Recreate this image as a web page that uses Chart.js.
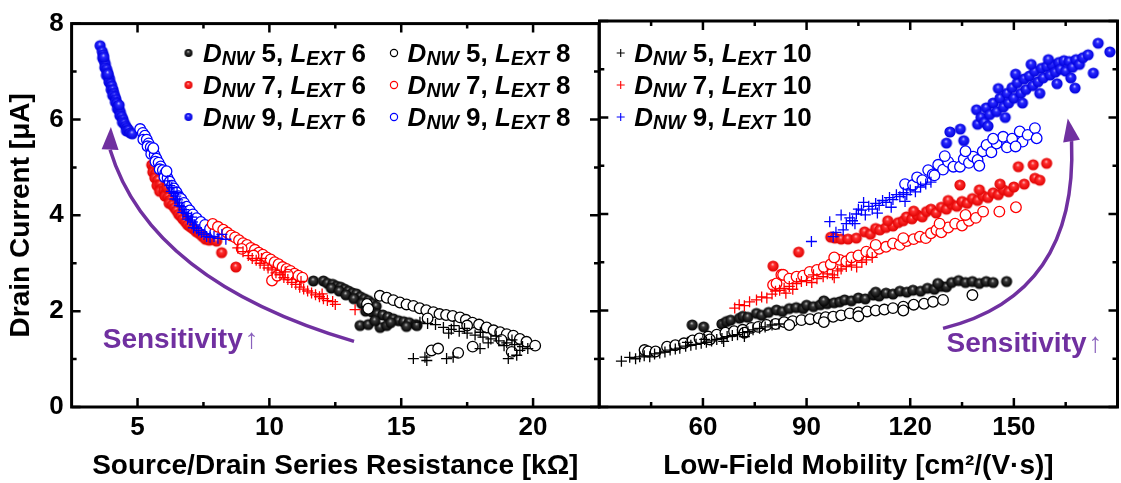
<!DOCTYPE html>
<html>
<head>
<meta charset="utf-8">
<script src="https://cdn.jsdelivr.net/npm/chart.js@4.4.1/dist/chart.umd.min.js"></script>
<style>
  html, body { margin: 0; padding: 0; background: #fff; }
  #wrap { position: relative; width: 1121px; height: 483px; overflow: hidden; }
  #left { position: absolute; left: 0; top: 0; }
  #right { position: absolute; left: 598px; top: 0; }
</style>
</head>
<body>
<div id="wrap">
  <canvas id="left" width="601" height="483"></canvas>
  <canvas id="right" width="523" height="483"></canvas>
</div>
<script>
// ---- data: [x, y] pairs ----
// left panel: source/drain series resistance [kOhm] vs drain current [uA]
const rsD5L6 = [[11.67,2.63],[12.05,2.63],[12.2,2.58],[12.4,2.56],[12.55,2.52],[12.35,2.48],[12.7,2.5],[12.85,2.46],[12.65,2.42],[13.0,2.42],[13.15,2.38],[12.9,2.34],[13.3,2.36],[13.45,2.3],[13.2,2.26],[13.6,2.26],[13.75,2.22],[13.5,2.16],[13.9,2.16],[14.05,2.1],[13.7,2.08],[13.65,2.0],[13.9,1.98],[14.1,1.94],[14.3,1.92],[14.5,1.88],[14.7,1.84],[14.9,1.8],[15.1,1.78],[15.3,1.76],[15.55,1.72],[13.44,1.7],[13.75,1.72],[14.2,1.66],[14.45,1.7],[15.2,1.68],[15.6,1.7],[14.0,1.8],[14.6,1.76]];
const rsD7L6 = [[5.54,5.05],[5.62,4.98],[5.58,4.9],[5.7,4.88],[5.66,4.78],[5.78,4.74],[5.74,4.62],[5.86,4.64],[5.92,4.56],[5.84,4.5],[6.0,4.52],[6.08,4.46],[6.04,4.4],[6.16,4.38],[6.24,4.32],[6.2,4.25],[6.32,4.22],[6.4,4.16],[6.48,4.1],[6.56,4.02],[6.64,3.98],[6.72,3.92],[6.82,3.86],[6.9,3.8],[7.0,3.76],[7.1,3.72],[7.22,3.66],[7.34,3.62],[7.46,3.56],[7.58,3.5],[7.72,3.48],[7.86,3.5],[8.0,3.46],[8.19,3.22],[8.73,2.92],[7.4,3.7],[6.12,4.58]];
const rsD9L6 = [[3.58,7.54],[3.66,7.42],[3.7,7.35],[3.68,7.28],[3.74,7.22],[3.78,7.15],[3.76,7.08],[3.83,7.05],[3.86,6.98],[3.82,6.92],[3.9,6.9],[3.94,6.84],[3.92,6.78],[3.98,6.75],[4.02,6.7],[4.0,6.62],[4.07,6.62],[4.1,6.55],[4.06,6.5],[4.14,6.48],[4.18,6.42],[4.16,6.36],[4.22,6.34],[4.26,6.28],[4.24,6.22],[4.31,6.2],[4.35,6.14],[4.33,6.08],[4.4,6.06],[4.45,6.0],[4.43,5.94],[4.5,5.92],[4.55,5.86],[4.6,5.82],[4.58,5.76],[4.66,5.78],[4.72,5.72],[4.8,5.7],[4.3,6.3],[3.72,7.3],[3.88,6.95]];
const rsD5L8 = [[13.7,2.15],[13.75,2.05],[14.19,2.32],[14.45,2.28],[14.7,2.23],[14.95,2.18],[15.2,2.14],[15.46,2.11],[15.7,2.06],[15.95,2.02],[16.22,1.98],[16.45,1.94],[16.7,1.92],[16.95,1.9],[17.23,1.87],[17.45,1.82],[17.7,1.76],[17.95,1.72],[18.24,1.66],[18.5,1.6],[18.75,1.56],[19.0,1.52],[19.25,1.49],[19.5,1.42],[19.75,1.36],[20.08,1.28],[16.15,1.18],[16.4,1.22],[17.16,1.13],[17.71,1.26],[19.19,1.15],[18.8,1.4],[17.5,1.7],[16.0,1.85]];
const rsD7L8 = [[7.85,3.82],[8.05,3.76],[8.25,3.7],[8.4,3.64],[8.55,3.58],[8.7,3.54],[8.85,3.48],[9.0,3.42],[9.15,3.38],[9.3,3.32],[9.45,3.28],[9.6,3.22],[9.75,3.18],[9.9,3.12],[10.05,3.08],[10.2,3.02],[10.35,2.98],[10.5,2.92],[10.65,2.88],[10.8,2.84],[10.95,2.78],[11.1,2.74],[11.25,2.7],[10.1,2.64],[10.3,2.74],[9.4,3.16],[8.95,3.3],[10.7,2.76]];
const rsD9L8 = [[5.1,5.8],[5.2,5.72],[5.28,5.66],[5.22,5.58],[5.35,5.58],[5.42,5.5],[5.38,5.44],[5.5,5.42],[5.56,5.34],[5.52,5.28],[5.65,5.26],[5.72,5.18],[5.68,5.12],[5.8,5.1],[5.88,5.02],[5.84,4.96],[5.96,4.94],[6.05,4.88],[6.02,4.8],[6.14,4.78],[6.22,4.7],[6.3,4.62],[6.38,4.56],[6.48,4.48],[6.56,4.4],[6.66,4.34],[6.76,4.26],[6.86,4.18],[6.98,4.1],[7.1,4.02],[7.24,3.94],[7.4,3.86],[7.56,3.8],[7.75,3.72],[7.95,3.66],[6.1,4.92],[5.6,5.4]];
const rsD5L10 = [[15.71,1.77],[16.0,1.74],[16.3,1.72],[16.6,1.66],[16.9,1.62],[17.2,1.58],[17.5,1.54],[17.8,1.5],[18.1,1.46],[18.4,1.42],[18.7,1.38],[19.0,1.34],[19.3,1.3],[19.6,1.26],[19.8,1.22],[17.0,1.7],[18.0,1.56],[18.6,1.48],[19.2,1.4],[17.4,1.64],[16.8,1.54],[18.3,1.34],[15.46,1.01],[15.9,1.04],[15.97,0.97],[16.72,1.01],[16.97,1.04],[19.06,1.01],[19.38,1.08],[17.99,1.22],[19.5,1.18],[18.9,1.28]];
const rsD7L10 = [[8.8,3.32],[9.0,3.24],[9.2,3.16],[9.35,3.1],[9.5,3.06],[9.65,3.0],[9.8,2.96],[9.95,2.9],[10.1,2.86],[10.25,2.8],[10.4,2.76],[10.55,2.7],[10.7,2.66],[10.85,2.6],[11.0,2.56],[11.15,2.5],[11.3,2.46],[11.45,2.42],[11.6,2.38],[11.75,2.34],[11.9,2.3],[12.05,2.26],[12.2,2.22],[12.4,2.2],[11.2,2.62],[10.6,2.82],[12.5,2.14],[12.0,2.36],[13.25,2.03],[9.7,3.1]];
const rsD9L10 = [[6.15,4.72],[6.22,4.62],[6.3,4.58],[6.28,4.5],[6.38,4.46],[6.45,4.4],[6.42,4.34],[6.52,4.32],[6.6,4.26],[6.58,4.2],[6.68,4.18],[6.76,4.12],[6.72,4.06],[6.84,4.04],[6.92,3.98],[6.9,3.92],[7.0,3.9],[7.08,3.86],[7.16,3.8],[7.12,3.74],[7.24,3.72],[7.32,3.68],[7.42,3.64],[7.52,3.6],[7.62,3.56],[7.75,3.54],[7.9,3.56],[8.05,3.52],[8.2,3.6],[8.35,3.5],[6.5,4.48],[7.05,3.96]];

// right panel: low-field mobility [cm2/(V s)] vs drain current [uA]
const muD5L6 = [[56.9,1.7],[60.2,1.66],[65.5,1.72],[66.8,1.77],[68.0,1.8],[70.6,1.84],[71.6,1.88],[73.0,1.86],[75.5,1.94],[77.0,1.9],[79.0,1.96],[81.3,2.01],[83.0,1.98],[85.0,2.04],[87.0,2.06],[89.0,2.04],[90.0,2.11],[92.0,2.08],[94.0,2.12],[96.0,2.14],[98.0,2.16],[99.6,2.18],[101.0,2.22],[103.0,2.2],[105.0,2.26],[107.0,2.24],[109.3,2.32],[111.0,2.3],[113.0,2.36],[115.0,2.34],[117.0,2.4],[119.0,2.38],[120.8,2.42],[123.0,2.4],[125.0,2.46],[127.0,2.44],[129.0,2.5],[130.5,2.49],[132.0,2.58],[134.0,2.62],[136.0,2.58],[138.0,2.6],[140.0,2.56],[142.0,2.6],[144.0,2.58],[147.9,2.6],[128.0,2.56],[95.0,2.2],[110.0,2.38]];
const muD7L6 = [[80.3,2.92],[87.7,3.21],[97.0,3.52],[98.2,3.5],[100.0,3.48],[102.0,3.48],[104.4,3.5],[106.8,3.63],[108.5,3.58],[110.0,3.7],[111.2,3.67],[113.0,3.72],[115.0,3.75],[116.5,3.82],[118.0,3.86],[118.9,3.94],[120.5,3.9],[122.0,3.98],[123.5,3.94],[124.7,4.05],[126.0,4.1],[127.5,4.02],[129.0,4.14],[130.5,4.1],[132.0,4.2],[133.5,4.16],[134.4,4.6],[135.0,4.26],[136.5,4.22],[138.0,4.32],[139.5,4.28],[141.0,4.38],[142.5,4.34],[144.0,4.44],[145.5,4.4],[147.0,4.5],[148.5,4.46],[150.0,4.56],[151.3,4.98],[153.0,4.62],[155.6,5.02],[156.1,4.74],[159.5,5.05],[157.5,4.7],[146.0,4.62],[140.0,4.5],[131.0,4.28],[121.0,4.06],[113.5,3.86]];
const muD9L6 = [[130.5,5.47],[131.5,5.7],[134.5,5.76],[135.5,5.52],[139.2,6.16],[139.5,5.86],[140.5,6.0],[141.5,5.9],[142.0,6.2],[143.0,6.06],[144.0,6.3],[145.0,6.12],[146.0,6.4],[147.0,6.22],[148.0,6.5],[148.5,6.3],[149.5,6.62],[150.0,6.4],[151.0,6.72],[152.0,6.5],[153.0,6.8],[153.5,6.58],[154.5,6.86],[155.5,6.66],[156.0,6.96],[157.0,6.74],[158.0,7.02],[158.5,6.82],[159.5,7.06],[160.5,6.88],[161.0,7.1],[162.0,6.94],[163.0,7.14],[163.5,7.0],[164.5,7.18],[165.0,6.96],[166.0,7.16],[167.0,7.04],[167.7,6.61],[168.0,7.2],[169.0,7.1],[170.0,7.24],[171.5,7.3],[173.0,6.92],[174.4,7.54],[177.8,7.36],[145.5,6.6],[150.5,6.9],[155.0,7.1],[160.0,7.2],[142.5,5.82],[147.5,6.0],[152.5,6.3],[157.5,6.5],[162.5,6.7],[166.5,6.82]];
const muD5L8 = [[43.1,1.18],[44.1,1.15],[46.3,1.15],[49.6,1.25],[52.0,1.28],[54.5,1.32],[57.0,1.38],[59.0,1.42],[61.5,1.46],[64.0,1.5],[66.5,1.54],[69.0,1.57],[71.5,1.6],[74.0,1.64],[76.0,1.66],[78.4,1.7],[81.0,1.72],[83.5,1.76],[86.0,1.78],[88.5,1.8],[91.0,1.82],[93.5,1.84],[95.5,1.86],[97.7,1.87],[100.0,1.9],[102.5,1.94],[105.0,1.96],[107.5,1.98],[110.0,2.0],[112.5,2.02],[115.0,2.05],[118.0,2.08],[121.0,2.12],[124.0,2.14],[126.6,2.18],[129.5,2.22],[138.0,2.32],[85.0,1.7],[95.0,1.76],[105.0,1.88],[118.0,2.0],[62.0,1.4],[72.0,1.54]];
const muD7L8 = [[80.3,2.53],[81.3,2.56],[82.7,2.74],[83.2,2.74],[85.0,2.66],[87.1,2.7],[89.0,2.72],[90.9,2.8],[93.0,2.84],[95.0,2.9],[97.0,2.96],[99.6,3.05],[101.5,3.02],[103.0,3.1],[105.0,3.14],[107.3,3.22],[109.0,3.2],[111.0,3.28],[113.0,3.32],[115.0,3.39],[117.0,3.36],[119.0,3.44],[121.0,3.48],[122.8,3.53],[124.5,3.5],[126.0,3.6],[127.6,3.67],[129.0,3.62],[131.0,3.72],[133.0,3.8],[135.0,3.76],[137.0,3.86],[139.0,3.92],[141.1,4.05],[145.8,4.05],[150.6,4.14],[118.0,3.5],[128.5,3.8],[136.0,3.98],[110.0,3.36],[98.0,3.1]];
const muD9L8 = [[118.5,4.62],[120.8,4.6],[122.0,4.76],[123.5,4.7],[125.2,4.91],[126.5,4.82],[128.1,5.02],[129.5,4.92],[131.0,5.08],[132.5,4.98],[134.4,4.98],[135.5,5.14],[137.0,5.06],[138.2,5.19],[139.5,5.12],[141.0,5.3],[142.1,5.43],[143.5,5.28],[145.0,5.46],[146.9,5.6],[148.0,5.38],[149.5,5.56],[151.7,5.71],[152.5,5.5],[154.0,5.64],[156.1,5.78],[156.6,5.57],[130.0,5.2],[136.0,5.3],[144.0,5.56],[150.5,5.4],[127.0,4.8],[140.0,5.0]];
const muD5L10 = [[36.4,0.95],[38.8,1.03],[40.5,1.0],[41.7,1.04],[43.0,1.06],[44.6,1.04],[46.0,1.1],[47.5,1.12],[49.0,1.14],[50.5,1.18],[52.0,1.2],[53.3,1.22],[55.0,1.26],[56.5,1.28],[58.0,1.3],[59.5,1.32],[61.0,1.34],[62.5,1.37],[64.0,1.4],[65.5,1.42],[67.0,1.46],[68.5,1.48],[70.0,1.5],[71.5,1.54],[73.0,1.56],[74.5,1.6],[76.4,1.63],[78.0,1.66],[80.0,1.7],[82.0,1.72],[55.5,1.34],[60.5,1.4],[66.0,1.36],[72.0,1.46]];
const muD7L10 = [[69.2,2.05],[70.5,2.12],[72.0,2.1],[73.5,2.18],[75.5,2.22],[77.0,2.28],[78.5,2.26],[80.0,2.34],[81.0,2.4],[82.2,2.42],[83.5,2.46],[85.0,2.5],[86.0,2.44],[87.1,2.56],[88.5,2.6],[90.0,2.62],[91.5,2.58],[93.0,2.66],[94.8,2.7],[96.0,2.76],[97.5,2.74],[99.0,2.82],[100.0,2.86],[101.5,2.91],[103.0,2.94],[104.5,2.9],[106.0,3.0],[107.3,3.05],[109.0,3.1],[84.0,2.36],[92.0,2.74],[98.0,2.68]];
const muD9L10 = [[91.4,3.43],[96.7,3.84],[97.7,3.53],[98.5,3.62],[100.6,3.67],[101.5,3.8],[102.5,3.92],[103.3,3.86],[104.4,4.0],[105.0,4.1],[105.9,4.08],[107.0,3.98],[108.0,4.16],[109.0,4.1],[110.0,4.22],[111.0,4.18],[112.0,4.28],[113.0,4.24],[114.0,4.34],[115.0,4.3],[116.0,4.4],[117.0,4.36],[118.0,4.44],[119.0,4.4],[120.0,4.5],[121.5,4.46],[123.0,4.56],[124.5,4.62],[126.0,4.66],[104.0,3.8],[106.5,4.24],[110.5,4.02],[114.5,4.14],[118.5,4.26],[100.0,3.98]];

// ---- axes / labels ----
const yTicks = [0, 2, 4, 6, 8];
const yMinor = [1, 3, 5, 7];
const rsTicks = [5, 10, 15, 20];
const rsMinor = [7.5, 12.5, 17.5];
const muTicks = [60, 90, 120, 150];
const muMinor = [45, 75, 105, 135, 165];
const dnwLabels = ['5', '7', '9'];
const lextLabels = ['6', '8', '10'];
const yTitle = 'Drain Current [\u03bcA]';
const rsTitle = 'Source/Drain Series Resistance [k\u03a9]';
const muTitle = 'Low-Field Mobility [cm\u00b2/(V\u00b7s)]';
const noteText = 'Sensitivity';

const FONT = "'Liberation Sans', Arial, sans-serif";
const PURPLE = '#7030a0';
const colors = ['#000000', '#ff0000', '#0000ff'];
const sphereColors = [
  ['#d8d8d8', '#3a3a3a', '#000000'],
  ['#ffd6d6', '#ff3030', '#e00000'],
  ['#d6d6ff', '#2a2aff', '#0000dc']
];

function sphere(r, c) {
  const s = Math.ceil(r * 2 + 2);
  const cv = document.createElement('canvas');
  cv.width = cv.height = s;
  const g = cv.getContext('2d');
  const cx = s / 2, cy = s / 2;
  const grad = g.createRadialGradient(cx - r * 0.1, cy - r * 0.35, 0, cx, cy, r);
  grad.addColorStop(0, c[0]);
  grad.addColorStop(0.3, c[1]);
  grad.addColorStop(1, c[2]);
  g.fillStyle = grad;
  g.beginPath();
  g.arc(cx, cy, r, 0, Math.PI * 2);
  g.fill();
  return cv;
}
const balls = sphereColors.map(c => sphere(5.6, c));
const smallBalls = sphereColors.map(c => sphere(4, c));

const toXY = arr => arr.map(p => ({ x: p[0], y: p[1] }));

function makeDatasets(l6, l8, l10) {
  const sets = [];
  l6.forEach((d, i) => sets.push({ data: toXY(d), pointStyle: balls[i], pointRadius: 5.6, order: 3 }));
  l8.forEach((d, i) => sets.push({ data: toXY(d), pointStyle: 'circle', pointRadius: 5.3, pointBorderWidth: 1.3, pointBorderColor: colors[i], pointBackgroundColor: '#ffffff', order: 2 }));
  l10.forEach((d, i) => sets.push({ data: toXY(d), pointStyle: 'cross', pointRadius: 5.5, pointBorderWidth: 1.3, pointBorderColor: colors[i], order: 1 }));
  return sets;
}

// frame with inward ticks on all four sides
function framePlugin(xMajor, xMinor) {
  return {
    id: 'frame',
    afterDraw(chart) {
      const { ctx, chartArea: a, scales: { x, y } } = chart;
      ctx.save();
      ctx.strokeStyle = '#000';
      ctx.lineWidth = 2.5;
      ctx.beginPath();
      const xt = (v, len) => {
        const p = x.getPixelForValue(v);
        ctx.moveTo(p, a.bottom); ctx.lineTo(p, a.bottom - len);
        ctx.moveTo(p, a.top); ctx.lineTo(p, a.top + len);
      };
      const yt = (v, len) => {
        const p = y.getPixelForValue(v);
        ctx.moveTo(a.left, p); ctx.lineTo(a.left + len, p);
        ctx.moveTo(a.right, p); ctx.lineTo(a.right - len, p);
      };
      xMajor.forEach(v => xt(v, 9));
      xMinor.forEach(v => xt(v, 5));
      yTicks.forEach(v => yt(v, 9));
      yMinor.forEach(v => yt(v, 5));
      ctx.stroke();
      ctx.lineWidth = 3;
      ctx.strokeRect(a.left, a.top, a.right - a.left, a.bottom - a.top);
      ctx.restore();
    }
  };
}

function drawLabel(ctx, x, y, d, l) {
  const parts = [
    ['italic bold', 26, 'D', 0],
    ['italic bold', 19.5, 'NW', 3],
    ['bold', 26, ' ' + d + ', ', 0],
    ['italic bold', 26, 'L', 0],
    ['italic bold', 19.5, 'EXT', 3],
    ['bold', 26, ' ' + l, 0]
  ];
  ctx.fillStyle = '#000';
  ctx.textBaseline = 'alphabetic';
  ctx.textAlign = 'left';
  parts.forEach(([st, sz, txt, dy]) => {
    ctx.font = st + ' ' + sz + 'px ' + FONT;
    ctx.fillText(txt, x, y + dy);
    x += ctx.measureText(txt).width;
  });
}

function drawMarker(ctx, kind, i, x, y) {
  ctx.save();
  if (kind === 'ball') {
    const b = smallBalls[i];
    ctx.drawImage(b, x - b.width / 2, y - b.height / 2);
  } else if (kind === 'open') {
    ctx.strokeStyle = colors[i];
    ctx.lineWidth = 1.2;
    ctx.beginPath(); ctx.arc(x, y, 3.6, 0, Math.PI * 2); ctx.stroke();
  } else {
    ctx.strokeStyle = colors[i];
    ctx.lineWidth = 1.1;
    ctx.beginPath();
    ctx.moveTo(x - 4, y); ctx.lineTo(x + 4, y);
    ctx.moveTo(x, y - 4); ctx.lineTo(x, y + 4);
    ctx.stroke();
  }
  ctx.restore();
}

// legend (entries: [marker kind, colour index, lext index, marker x, text x])
function legendPlugin(entries) {
  return {
    id: 'legendSub',
    afterDraw(chart) {
      const ctx = chart.ctx;
      const rows = [61.5, 93.5, 125.5];
      entries.forEach(e => {
        const [kind, i, li, mx, tx] = e;
        drawMarker(ctx, kind, i, mx, rows[i] - 8.5);
        drawLabel(ctx, tx, rows[i], dnwLabels[i], lextLabels[li]);
      });
    }
  };
}

// curved "Sensitivity" arrow, anchored in data units
function notePlugin(n) {
  return {
    id: 'note',
    afterDatasetsDraw(chart) {
      const { ctx, scales: { x, y } } = chart;
      const P = p => [x.getPixelForValue(p[0]), y.getPixelForValue(p[1])];
      const s = P(n.start), c = P(n.ctrl), e = P(n.end), t = P(n.tip);
      ctx.save();
      ctx.strokeStyle = PURPLE;
      ctx.fillStyle = PURPLE;
      ctx.lineWidth = 3.5;
      ctx.beginPath();
      ctx.moveTo(s[0], s[1]);
      ctx.quadraticCurveTo(c[0], c[1], e[0], e[1]);
      ctx.stroke();
      const dx = t[0] - e[0], dy = t[1] - e[1];
      const len = Math.hypot(dx, dy);
      const nx = -dy / len * 8.5, ny = dx / len * 8.5;
      ctx.beginPath();
      ctx.moveTo(t[0], t[1]);
      ctx.lineTo(e[0] + nx, e[1] + ny);
      ctx.lineTo(e[0] - nx, e[1] - ny);
      ctx.closePath();
      ctx.fill();
      const tp = P(n.text);
      ctx.font = 'bold 28px ' + FONT;
      ctx.textBaseline = 'alphabetic';
      ctx.textAlign = 'left';
      ctx.fillText(noteText, tp[0], tp[1]);
      const w = ctx.measureText(noteText).width;
      ctx.font = '28px ' + FONT;
      ctx.fillStyle = '#8a62bd';
      ctx.fillText('\u2191', tp[0] + w + 2, tp[1]);
      ctx.restore();
    }
  };
}

function baseOptions(xMin, xMax, xTicks, xTitle, showY, pad) {
  return {
    responsive: false,
    animation: false,
    events: [],
    devicePixelRatio: 1,
    layout: { padding: pad, autoPadding: false },
    plugins: { legend: { display: false }, tooltip: { enabled: false } },
    scales: {
      x: {
        type: 'linear', min: xMin, max: xMax,
        afterBuildTicks: s => { s.ticks = xTicks.map(v => ({ value: v })); },
        afterFit: s => { s.height = 76; },
        grid: { display: false, drawTicks: false },
        border: { display: false },
        ticks: { color: '#000', font: { family: FONT, size: 26, weight: 'bold' }, padding: 5, maxRotation: 0, autoSkip: false },
        title: { display: true, text: xTitle, color: '#000', font: { family: FONT, size: 28, weight: 'bold' }, padding: { top: 0, bottom: 0 } }
      },
      y: {
        type: 'linear', min: 0, max: 8,
        afterBuildTicks: s => { s.ticks = yTicks.map(v => ({ value: v })); },
        afterFit: s => { s.width = showY ? 71.6 : 0; },
        grid: { display: false, drawTicks: false },
        border: { display: false },
        ticks: { display: showY, color: '#000', font: { family: FONT, size: 26, weight: 'bold' }, padding: 8 },
        title: { display: showY, text: yTitle, color: '#000', font: { family: FONT, size: 28, weight: 'bold' }, padding: { top: 4, bottom: 0 } }
      }
    }
  };
}

new Chart(document.getElementById('left'), {
  type: 'scatter',
  data: { datasets: makeDatasets([rsD5L6, rsD7L6, rsD9L6], [rsD5L8, rsD7L8, rsD9L8], [rsD5L10, rsD7L10, rsD9L10]) },
  options: baseOptions(2.5, 22.5, rsTicks, rsTitle, true, { top: 21, right: 2, left: 0, bottom: 0 }),
  plugins: [
    framePlugin(rsTicks, rsMinor),
    legendPlugin([
      ['ball', 0, 0, 188.5, 203], ['ball', 1, 0, 188.5, 203], ['ball', 2, 0, 188.5, 203],
      ['open', 0, 1, 394, 407.6], ['open', 1, 1, 394, 407.6], ['open', 2, 1, 394, 407.6]
    ]),
    notePlugin({ start: [13.21, 1.37], ctrl: [5.47, 2.63], end: [3.96, 5.37], tip: [3.99, 5.84], text: [3.68, 1.24] })
  ]
});

new Chart(document.getElementById('right'), {
  type: 'scatter',
  data: { datasets: makeDatasets([muD5L6, muD7L6, muD9L6], [muD5L8, muD7L8, muD9L8], [muD5L10, muD7L10, muD9L10]) },
  options: baseOptions(30, 180, muTicks, muTitle, false, { top: 21, right: 3.5, left: 1.3, bottom: 0 }),
  plugins: [
    framePlugin(muTicks, muMinor),
    legendPlugin([
      ['cross', 0, 2, 22.7, 36.3], ['cross', 1, 2, 22.7, 36.3], ['cross', 2, 2, 22.7, 36.3]
    ]),
    notePlugin({ start: [129.5, 1.63], ctrl: [168.5, 2.32], end: [166.7, 5.51], tip: [165.6, 5.98], text: [130.5, 1.14] })
  ]
});
</script>
</body>
</html>
